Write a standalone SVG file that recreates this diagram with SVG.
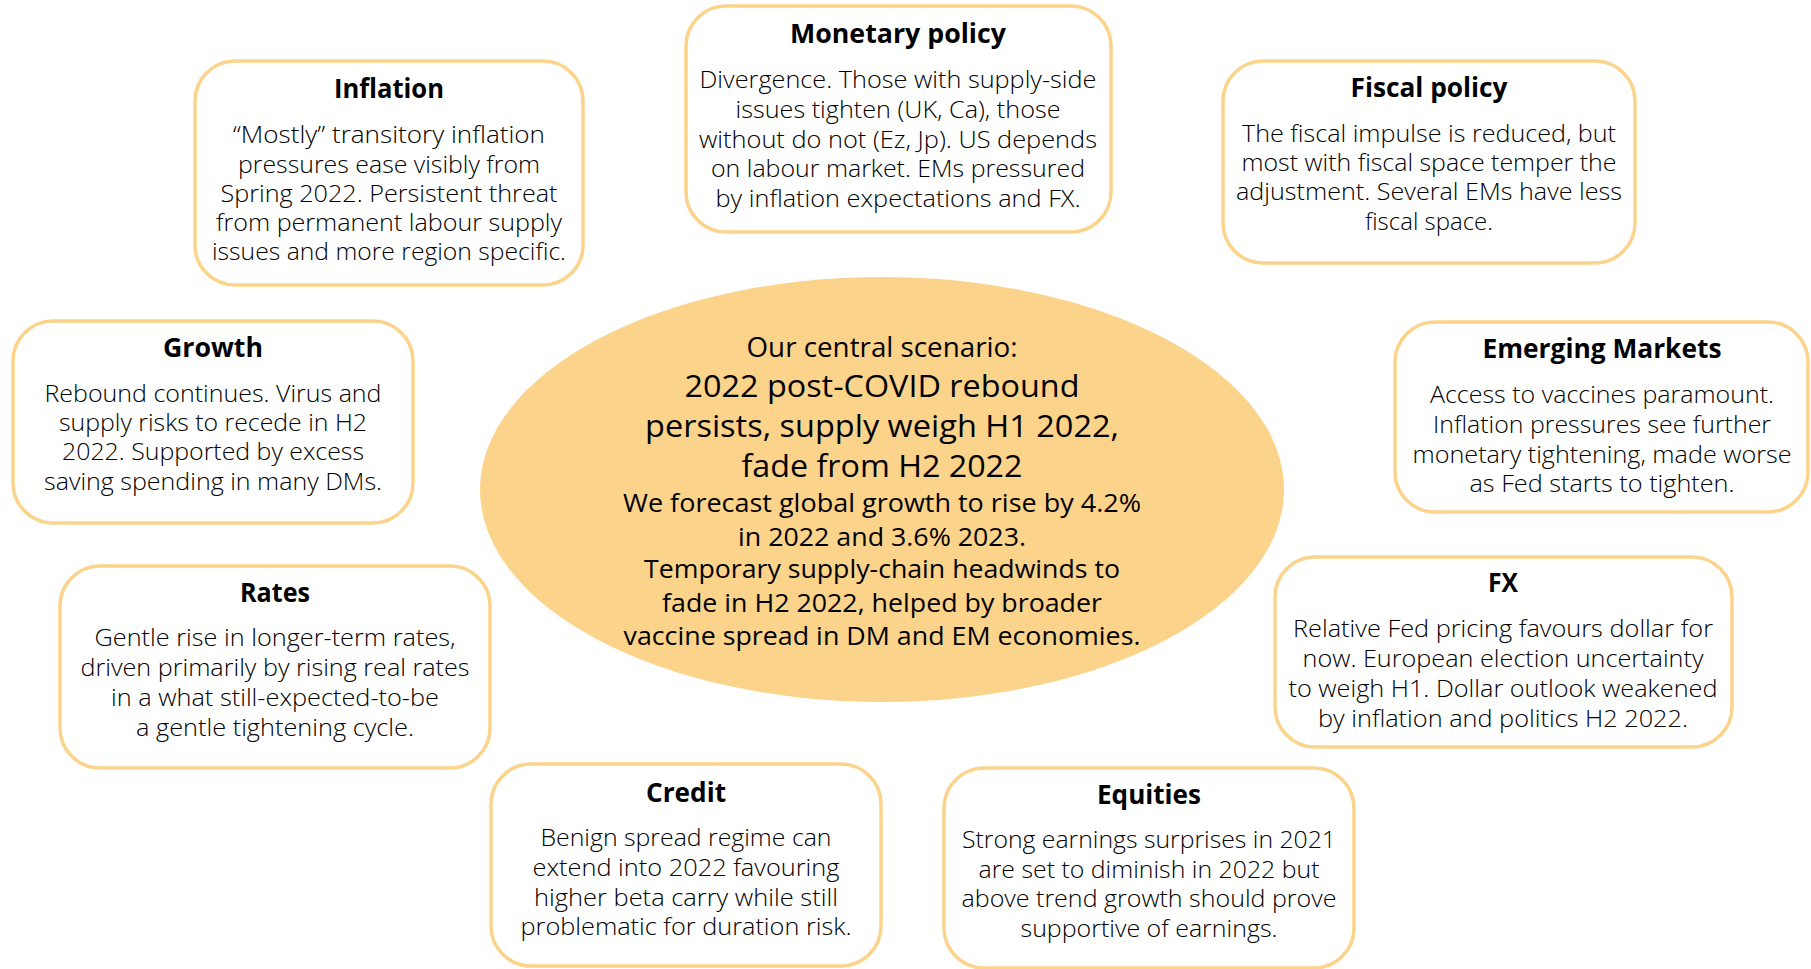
<svg xmlns="http://www.w3.org/2000/svg" width="1811" height="969" viewBox="0 0 1811 969">
  <style>
    .box { fill: #ffffff; stroke: #FBD38A; stroke-width: 3.5; }
    .hub { fill: #FBD38A; }
    text { font-family: "Open Sans", "Lato", "Liberation Sans", sans-serif; text-anchor: middle; }
    .t { font-weight: 700; font-size: 26.5px; fill: #000000; }
    .b { font-weight: 300; font-size: 23px; fill: #000000; }
    .c1 { font-weight: 400; font-size: 27px; fill: #000000; }
    .c2 { font-weight: 400; font-size: 30.5px; fill: #000000; }
    .c3 { font-weight: 400; font-size: 25.5px; fill: #000000; }
  </style>
  <rect width="1811" height="969" fill="#ffffff"/>

  <!-- central scenario -->
  <g id="central">
    <ellipse class="hub" cx="882" cy="489.5" rx="402" ry="212.5"/>
    <text class="c1" x="882" y="357" textLength="271" lengthAdjust="spacingAndGlyphs">Our central scenario:</text>
    <text class="c2" x="882" y="397" textLength="395" lengthAdjust="spacingAndGlyphs">2022 post-COVID rebound</text>
    <text class="c2" x="882" y="437" textLength="474" lengthAdjust="spacingAndGlyphs">persists, supply weigh H1 2022,</text>
    <text class="c2" x="882" y="477" textLength="281" lengthAdjust="spacingAndGlyphs">fade from H2 2022</text>
    <text class="c3" x="882" y="512" textLength="518" lengthAdjust="spacingAndGlyphs">We forecast global growth to rise by 4.2%</text>
    <text class="c3" x="882" y="546" textLength="288" lengthAdjust="spacingAndGlyphs">in 2022 and 3.6% 2023.</text>
    <text class="c3" x="882" y="578" textLength="476" lengthAdjust="spacingAndGlyphs">Temporary supply-chain headwinds to</text>
    <text class="c3" x="882" y="612" textLength="440" lengthAdjust="spacingAndGlyphs">fade in H2 2022, helped by broader</text>
    <text class="c3" x="882" y="645" textLength="517" lengthAdjust="spacingAndGlyphs">vaccine spread in DM and EM economies.</text>
  </g>

  <g id="inflation">
    <rect class="box" x="195" y="61" width="388" height="224" rx="40"/>
    <text class="t" x="389" y="98" textLength="110" lengthAdjust="spacingAndGlyphs">Inflation</text>
    <text class="b" x="389" y="143" textLength="312" lengthAdjust="spacingAndGlyphs">“Mostly” transitory inflation</text>
    <text class="b" x="389" y="172.5" textLength="302" lengthAdjust="spacingAndGlyphs">pressures ease visibly from</text>
    <text class="b" x="389" y="202" textLength="337" lengthAdjust="spacingAndGlyphs">Spring 2022. Persistent threat</text>
    <text class="b" x="389" y="231" textLength="346" lengthAdjust="spacingAndGlyphs">from permanent labour supply</text>
    <text class="b" x="389" y="260" textLength="354" lengthAdjust="spacingAndGlyphs">issues and more region specific.</text>
  </g>

  <g id="monetary-policy">
    <rect class="box" x="686" y="6" width="425" height="226" rx="40"/>
    <text class="t" x="898" y="43" textLength="216" lengthAdjust="spacingAndGlyphs">Monetary policy</text>
    <text class="b" x="898" y="88" textLength="397" lengthAdjust="spacingAndGlyphs">Divergence. Those with supply-side</text>
    <text class="b" x="898" y="118" textLength="325" lengthAdjust="spacingAndGlyphs">issues tighten (UK, Ca), those</text>
    <text class="b" x="898" y="148" textLength="398" lengthAdjust="spacingAndGlyphs">without do not (Ez, Jp). US depends</text>
    <text class="b" x="898" y="177" textLength="374" lengthAdjust="spacingAndGlyphs">on labour market. EMs pressured</text>
    <text class="b" x="898" y="207" textLength="365" lengthAdjust="spacingAndGlyphs">by inflation expectations and FX.</text>
  </g>

  <g id="fiscal-policy">
    <rect class="box" x="1223" y="61" width="412" height="202" rx="40"/>
    <text class="t" x="1429" y="97" textLength="157" lengthAdjust="spacingAndGlyphs">Fiscal policy</text>
    <text class="b" x="1429" y="142" textLength="374" lengthAdjust="spacingAndGlyphs">The fiscal impulse is reduced, but</text>
    <text class="b" x="1429" y="171" textLength="375" lengthAdjust="spacingAndGlyphs">most with fiscal space temper the</text>
    <text class="b" x="1429" y="200" textLength="386" lengthAdjust="spacingAndGlyphs">adjustment. Several EMs have less</text>
    <text class="b" x="1429" y="230" textLength="128" lengthAdjust="spacingAndGlyphs">fiscal space.</text>
  </g>

  <g id="emerging-markets">
    <rect class="box" x="1395" y="322" width="413" height="190" rx="40"/>
    <text class="t" x="1602" y="358" textLength="239" lengthAdjust="spacingAndGlyphs">Emerging Markets</text>
    <text class="b" x="1602" y="403" textLength="344" lengthAdjust="spacingAndGlyphs">Access to vaccines paramount.</text>
    <text class="b" x="1602" y="433" textLength="338" lengthAdjust="spacingAndGlyphs">Inflation pressures see further</text>
    <text class="b" x="1602" y="463" textLength="379" lengthAdjust="spacingAndGlyphs">monetary tightening, made worse</text>
    <text class="b" x="1602" y="492" textLength="265" lengthAdjust="spacingAndGlyphs">as Fed starts to tighten.</text>
  </g>

  <g id="growth">
    <rect class="box" x="13" y="321" width="400" height="202" rx="40"/>
    <text class="t" x="213" y="357" textLength="100" lengthAdjust="spacingAndGlyphs">Growth</text>
    <text class="b" x="213" y="402" textLength="337" lengthAdjust="spacingAndGlyphs">Rebound continues. Virus and</text>
    <text class="b" x="213" y="431" textLength="308" lengthAdjust="spacingAndGlyphs">supply risks to recede in H2</text>
    <text class="b" x="213" y="460" textLength="302" lengthAdjust="spacingAndGlyphs">2022. Supported by excess</text>
    <text class="b" x="213" y="490" textLength="338" lengthAdjust="spacingAndGlyphs">saving spending in many DMs.</text>
  </g>

  <g id="rates">
    <rect class="box" x="60" y="566" width="430" height="202" rx="40"/>
    <text class="t" x="275" y="602" textLength="70" lengthAdjust="spacingAndGlyphs">Rates</text>
    <text class="b" x="275" y="646" textLength="361" lengthAdjust="spacingAndGlyphs">Gentle rise in longer-term rates,</text>
    <text class="b" x="275" y="676" textLength="389" lengthAdjust="spacingAndGlyphs">driven primarily by rising real rates</text>
    <text class="b" x="275" y="706" textLength="328" lengthAdjust="spacingAndGlyphs">in a what still-expected-to-be</text>
    <text class="b" x="275" y="736" textLength="278" lengthAdjust="spacingAndGlyphs">a gentle tightening cycle.</text>
  </g>

  <g id="fx">
    <rect class="box" x="1275" y="557" width="457" height="190" rx="40"/>
    <text class="t" x="1503" y="592" textLength="30" lengthAdjust="spacingAndGlyphs">FX</text>
    <text class="b" x="1503" y="637" textLength="420" lengthAdjust="spacingAndGlyphs">Relative Fed pricing favours dollar for</text>
    <text class="b" x="1503" y="667" textLength="401" lengthAdjust="spacingAndGlyphs">now. European election uncertainty</text>
    <text class="b" x="1503" y="697" textLength="429" lengthAdjust="spacingAndGlyphs">to weigh H1. Dollar outlook weakened</text>
    <text class="b" x="1503" y="727" textLength="370" lengthAdjust="spacingAndGlyphs">by inflation and politics H2 2022.</text>
  </g>

  <g id="credit">
    <rect class="box" x="491" y="764" width="390" height="202" rx="40"/>
    <text class="t" x="686" y="802" textLength="80" lengthAdjust="spacingAndGlyphs">Credit</text>
    <text class="b" x="686" y="846" textLength="291" lengthAdjust="spacingAndGlyphs">Benign spread regime can</text>
    <text class="b" x="686" y="876" textLength="307" lengthAdjust="spacingAndGlyphs">extend into 2022 favouring</text>
    <text class="b" x="686" y="906" textLength="304" lengthAdjust="spacingAndGlyphs">higher beta carry while still</text>
    <text class="b" x="686" y="935" textLength="331" lengthAdjust="spacingAndGlyphs">problematic for duration risk.</text>
  </g>

  <g id="equities">
    <rect class="box" x="944" y="768" width="410" height="200" rx="40"/>
    <text class="t" x="1149" y="804" textLength="104" lengthAdjust="spacingAndGlyphs">Equities</text>
    <text class="b" x="1149" y="848" textLength="374" lengthAdjust="spacingAndGlyphs">Strong earnings surprises in 2021</text>
    <text class="b" x="1149" y="878" textLength="341" lengthAdjust="spacingAndGlyphs">are set to diminish in 2022 but</text>
    <text class="b" x="1149" y="907" textLength="375" lengthAdjust="spacingAndGlyphs">above trend growth should prove</text>
    <text class="b" x="1149" y="937" textLength="257" lengthAdjust="spacingAndGlyphs">supportive of earnings.</text>
  </g>
</svg>
